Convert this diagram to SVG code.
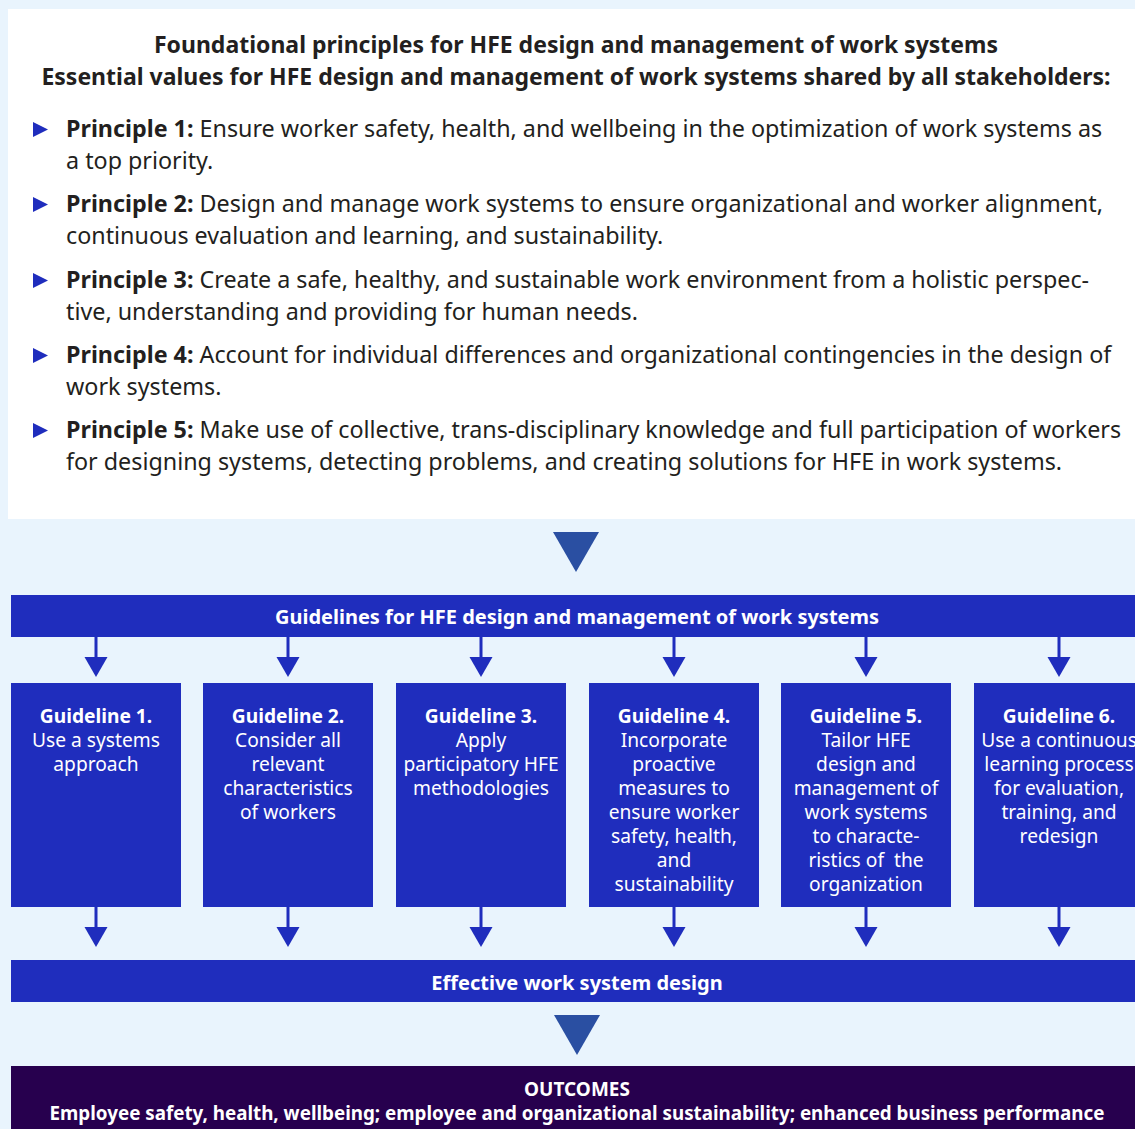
<svg xmlns="http://www.w3.org/2000/svg" width="1135" height="1129" viewBox="0 0 1135 1129">
<defs>
<style>
.t{font-family:"Noto Sans","Open Sans","Liberation Sans",sans-serif;}
.ttl{font-size:23px;font-weight:bold;fill:#231F20;text-anchor:middle;}
.p{font-size:23.3px;fill:#231F20;}
.b{font-weight:bold;}
.bar{fill:#1F2DBD;}
.bt{font-size:20px;font-weight:bold;fill:#FFFFFF;text-anchor:middle;}
.g{font-size:19.2px;fill:#FFFFFF;text-anchor:middle;}
.bul{fill:#1F2DBD;}
.stem{stroke:#1F2DBD;stroke-width:3;fill:none;}
.head{fill:#1F2DBD;}
.big{fill:#2A4FA2;}
</style>
</defs>
<rect x="0" y="0" width="1135" height="1129" fill="#E9F4FD"/>
<g id="principles">
<rect x="8" y="9" width="1127" height="510" fill="#FFFFFF"/>
<text class="t ttl" x="576" y="53">Foundational principles for HFE design and management of work systems</text>
<text class="t ttl" x="576" y="85">Essential values for HFE design and management of work systems shared by all stakeholders:</text>
<polygon class="bul" points="33,122 48,129.5 33,137"/>
<text class="t p" x="66" y="137"><tspan class="b">Principle 1:</tspan> Ensure worker safety, health, and wellbeing in the optimization of work systems as</text>
<text class="t p" x="66" y="169">a top priority.</text>
<polygon class="bul" points="33,197 48,204.5 33,212"/>
<text class="t p" x="66" y="212"><tspan class="b">Principle 2:</tspan> Design and manage work systems to ensure organizational and worker alignment,</text>
<text class="t p" x="66" y="244">continuous evaluation and learning, and sustainability.</text>
<polygon class="bul" points="33,273 48,280.5 33,288"/>
<text class="t p" x="66" y="288"><tspan class="b">Principle 3:</tspan> Create a safe, healthy, and sustainable work environment from a holistic perspec-</text>
<text class="t p" x="66" y="320">tive, understanding and providing for human needs.</text>
<polygon class="bul" points="33,348 48,355.5 33,363"/>
<text class="t p" x="66" y="363"><tspan class="b">Principle 4:</tspan> Account for individual differences and organizational contingencies in the design of</text>
<text class="t p" x="66" y="395">work systems.</text>
<polygon class="bul" points="33,423 48,430.5 33,438"/>
<text class="t p" x="66" y="438"><tspan class="b">Principle 5:</tspan> Make use of collective, trans-disciplinary knowledge and full participation of workers</text>
<text class="t p" x="66" y="470">for designing systems, detecting problems, and creating solutions for HFE in work systems.</text>
</g>
<g id="connectors">
<polygon class="big" points="553,532 599,532 576,572"/>
<polygon class="big" points="554,1015 600,1015 577,1055"/>
<g id="arrows-top">
<line class="stem" x1="96" y1="637" x2="96" y2="658"/><polygon class="head" points="84.5,657 107.5,657 96,677"/>
<line class="stem" x1="288" y1="637" x2="288" y2="658"/><polygon class="head" points="276.5,657 299.5,657 288,677"/>
<line class="stem" x1="481" y1="637" x2="481" y2="658"/><polygon class="head" points="469.5,657 492.5,657 481,677"/>
<line class="stem" x1="674" y1="637" x2="674" y2="658"/><polygon class="head" points="662.5,657 685.5,657 674,677"/>
<line class="stem" x1="866" y1="637" x2="866" y2="658"/><polygon class="head" points="854.5,657 877.5,657 866,677"/>
<line class="stem" x1="1059" y1="637" x2="1059" y2="658"/><polygon class="head" points="1047.5,657 1070.5,657 1059,677"/>
</g>
<g id="arrows-bottom">
<line class="stem" x1="96" y1="907" x2="96" y2="928"/><polygon class="head" points="84.5,927 107.5,927 96,947"/>
<line class="stem" x1="288" y1="907" x2="288" y2="928"/><polygon class="head" points="276.5,927 299.5,927 288,947"/>
<line class="stem" x1="481" y1="907" x2="481" y2="928"/><polygon class="head" points="469.5,927 492.5,927 481,947"/>
<line class="stem" x1="674" y1="907" x2="674" y2="928"/><polygon class="head" points="662.5,927 685.5,927 674,947"/>
<line class="stem" x1="866" y1="907" x2="866" y2="928"/><polygon class="head" points="854.5,927 877.5,927 866,947"/>
<line class="stem" x1="1059" y1="907" x2="1059" y2="928"/><polygon class="head" points="1047.5,927 1070.5,927 1059,947"/>
</g>
</g>
<g id="guidelines-bar">
<rect class="bar" x="11" y="595" width="1124" height="42"/>
<text class="t bt" x="577" y="624">Guidelines for HFE design and management of work systems</text>
</g>
<g id="guideline1">
<rect class="bar" x="11" y="683" width="170" height="224"/>
<text class="t g" x="96" y="723"><tspan font-weight="bold">Guideline 1.</tspan><tspan x="96" dy="24">Use a systems</tspan><tspan x="96" dy="24">approach</tspan></text>
</g>
<g id="guideline2">
<rect class="bar" x="203" y="683" width="170" height="224"/>
<text class="t g" x="288" y="723"><tspan font-weight="bold">Guideline 2.</tspan><tspan x="288" dy="24">Consider all</tspan><tspan x="288" dy="24">relevant</tspan><tspan x="288" dy="24">characteristics</tspan><tspan x="288" dy="24">of workers</tspan></text>
</g>
<g id="guideline3">
<rect class="bar" x="396" y="683" width="170" height="224"/>
<text class="t g" x="481" y="723"><tspan font-weight="bold">Guideline 3.</tspan><tspan x="481" dy="24">Apply</tspan><tspan x="481" dy="24">participatory HFE</tspan><tspan x="481" dy="24">methodologies</tspan></text>
</g>
<g id="guideline4">
<rect class="bar" x="589" y="683" width="170" height="224"/>
<text class="t g" x="674" y="723"><tspan font-weight="bold">Guideline 4.</tspan><tspan x="674" dy="24">Incorporate</tspan><tspan x="674" dy="24">proactive</tspan><tspan x="674" dy="24">measures to</tspan><tspan x="674" dy="24">ensure worker</tspan><tspan x="674" dy="24">safety, health,</tspan><tspan x="674" dy="24">and</tspan><tspan x="674" dy="24">sustainability</tspan></text>
</g>
<g id="guideline5">
<rect class="bar" x="781" y="683" width="170" height="224"/>
<text class="t g" x="866" y="723"><tspan font-weight="bold">Guideline 5.</tspan><tspan x="866" dy="24">Tailor HFE</tspan><tspan x="866" dy="24">design and</tspan><tspan x="866" dy="24">management of</tspan><tspan x="866" dy="24">work systems</tspan><tspan x="866" dy="24">to characte-</tspan><tspan x="866" dy="24">ristics of&#160; the</tspan><tspan x="866" dy="24">organization</tspan></text>
</g>
<g id="guideline6">
<rect class="bar" x="974" y="683" width="170" height="224"/>
<text class="t g" x="1059" y="723"><tspan font-weight="bold">Guideline 6.</tspan><tspan x="1059" dy="24">Use a continuous</tspan><tspan x="1059" dy="24">learning process</tspan><tspan x="1059" dy="24">for evaluation,</tspan><tspan x="1059" dy="24">training, and</tspan><tspan x="1059" dy="24">redesign</tspan></text>
</g>
<g id="effective-bar">
<rect class="bar" x="11" y="960" width="1124" height="42"/>
<text class="t bt" x="577" y="990">Effective work system design</text>
</g>
<g id="outcomes">
<rect x="11" y="1066" width="1124" height="63" fill="#27004E"/>
<text class="t" x="577" y="1096" font-size="19" font-weight="bold" fill="#FFFFFF" text-anchor="middle">OUTCOMES</text>
<text class="t" x="577" y="1120" font-size="18.8" font-weight="bold" fill="#FFFFFF" text-anchor="middle">Employee safety, health, wellbeing; employee and organizational sustainability; enhanced business performance</text>
</g>
</svg>
